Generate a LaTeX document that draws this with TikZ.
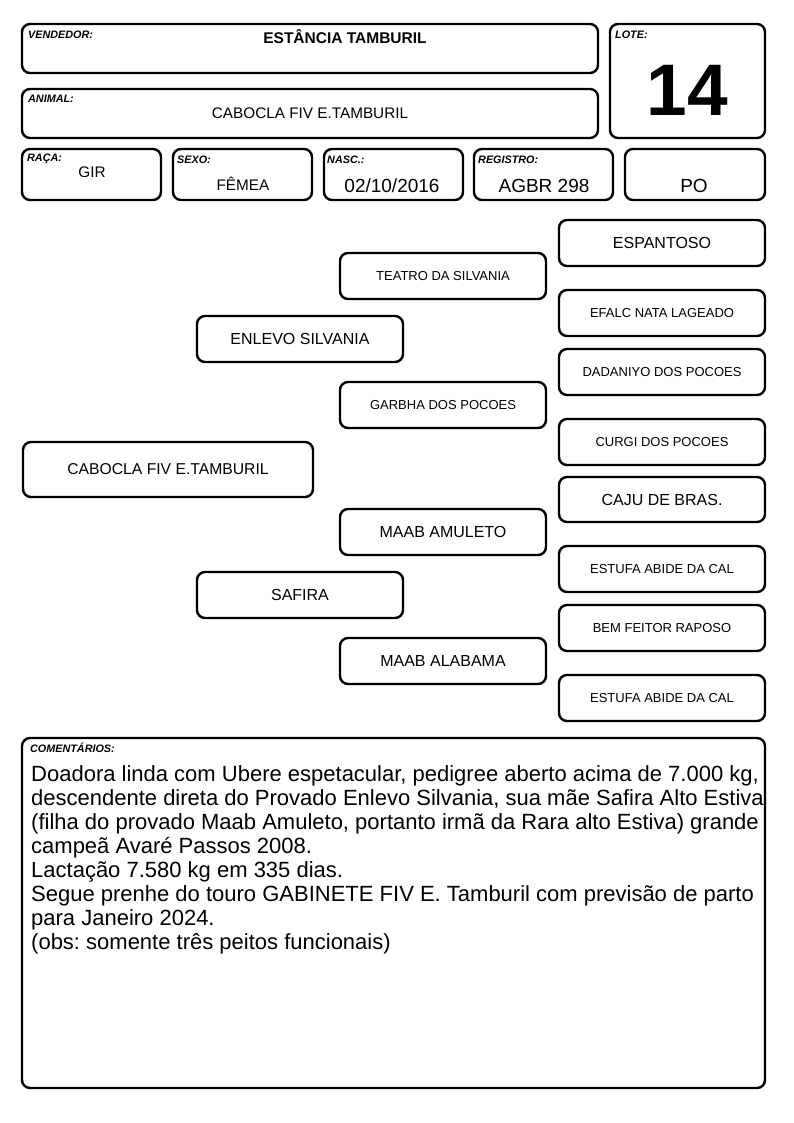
\documentclass[tikz,border=0pt]{standalone}
\usepackage{fontspec}
\setmainfont{Liberation Sans}
\newcommand\fs[1]{\fontsize{#1}{#1}\selectfont}
\frenchspacing
\begin{document}
\begin{tikzpicture}[x=1pt,y=-1pt,
  frame/.style={draw, line width=2.4pt, rounded corners=8pt, inner sep=0pt},
  ped/.style={frame, minimum width=206pt, minimum height=46pt},
  big/.style={font=\fs{16}},
  small/.style={font=\fs{13}},
  lab/.style={font=\fs{10.8}\bfseries\itshape, anchor=west, inner sep=0pt},
  val/.style={font=\fs{15.3}, inner sep=0pt},
  valb/.style={font=\fs{19}, inner sep=0pt}]
\useasboundingbox (0,0) rectangle (794,1123);
\fill[white] (0,0) rectangle (794,1123);
% header
\node[frame, minimum width=576pt, minimum height=49pt] (vend) at (310,48.5) {};
\node[frame, minimum width=576pt, minimum height=49pt] (anim) at (310,113.5) {};
\node[frame, minimum width=155pt, minimum height=114pt] (lote) at (687.5,81) {};
\node[frame, minimum width=139pt, minimum height=51pt] (raca) at (91.5,174.5) {};
\node[frame, minimum width=139pt, minimum height=51pt] (sexo) at (242.5,174.5) {};
\node[frame, minimum width=139pt, minimum height=51pt] (nasc) at (393.5,174.5) {};
\node[frame, minimum width=139pt, minimum height=51pt] (reg) at (543.5,174.5) {};
\node[frame, minimum width=140pt, minimum height=51pt] (po) at (695,174.5) {};
\node[lab] (lvend) at (28,35) {VENDEDOR:};
\node[lab] (lanim) at (28,99) {ANIMAL:};
\node[lab] (llote) at (615,35) {LOTE:};
\node[lab] (lraca) at (27,159) {RAÇA:};
\node[lab] (lsexo) at (177,160) {SEXO:};
\node[lab] (lnasc) at (327,160) {NASC.:};
\node[lab] (lreg) at (478,160) {REGISTRO:};
\node[val, font=\fs{15.5}\bfseries] (tvend) at (345,37) {ESTÂNCIA TAMBURIL};
\node[val] (tanim) at (310,113) {CABOCLA FIV E.TAMBURIL};
\node[inner sep=0pt, font=\fs{73}\bfseries] (tlote) at (687.5,90) {14};
\node[val] (traca) at (92,172) {GIR};
\node[val] (tsexo) at (243,184) {FÊMEA};
\node[valb] (tnasc) at (392,186) {02/10/2016};
\node[valb] (treg) at (544,186) {AGBR 298};
\node[valb] (tpo) at (694,186) {PO};
% pedigree
\node[frame, minimum width=290pt, minimum height=55pt, font=\fs{15.7}] (p0) at (168,469.5) {CABOCLA FIV E.TAMBURIL};
\node[ped, big] (p1) at (300,339) {ENLEVO SILVANIA};
\node[ped, big] (p2) at (300,595) {SAFIRA};
\node[ped, small] (p11) at (443,276) {TEATRO DA SILVANIA};
\node[ped, small] (p12) at (443,405) {GARBHA DOS POCOES};
\node[ped, big] (p21) at (443,532) {MAAB AMULETO};
\node[ped, big] (p22) at (443,661) {MAAB ALABAMA};
\node[ped, big] (p111) at (662,243) {ESPANTOSO};
\node[ped, small] (p112) at (662,313) {EFALC NATA LAGEADO};
\node[ped, small] (p121) at (662,372) {DADANIYO DOS POCOES};
\node[ped, small] (p122) at (662,442) {CURGI DOS POCOES};
\node[ped, big, minimum height=45pt] (p211) at (662,499.5) {CAJU DE BRAS.};
\node[ped, small] (p212) at (662,569) {ESTUFA ABIDE DA CAL};
\node[ped, small] (p221) at (662,628) {BEM FEITOR RAPOSO};
\node[ped, small] (p222) at (662,698) {ESTUFA ABIDE DA CAL};
% comments
\node[frame, minimum width=743pt, minimum height=350pt] (com) at (393.5,913) {};
\node[lab] (lcom) at (30,748) {COMENTÁRIOS:};
\node[anchor=north west, inner sep=0pt, align=left, font=\fontsize{22}{24.1}\selectfont] (tcom) at (31,765)
{Doadora linda com Ubere espetacular, pedigree aberto acima de 7.000 kg,\\
descendente direta do Provado Enlevo Silvania, sua mãe Safira Alto Estiva\\
(filha do provado Maab Amuleto, portanto irmã da Rara alto Estiva) grande\\
campeã Avaré Passos 2008.\\
Lactação 7.580 kg em 335 dias.\\
Segue prenhe do touro GABINETE FIV E. Tamburil com previsão de parto\\
para Janeiro 2024.\\
(obs: somente três peitos funcionais)};
\end{tikzpicture}
\end{document}
